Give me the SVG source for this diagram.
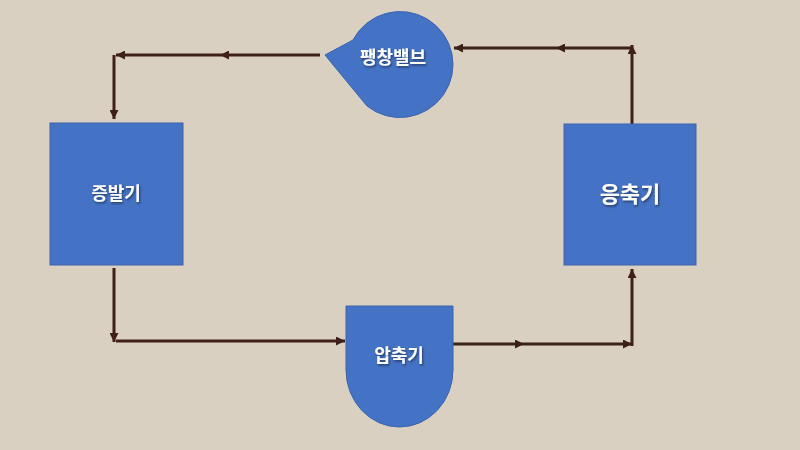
<svg xmlns="http://www.w3.org/2000/svg" width="800" height="450" viewBox="0 0 800 450">
<defs>
<marker id="ah" viewBox="0 0 10 10" refX="10" refY="5" markerWidth="9" markerHeight="9" markerUnits="userSpaceOnUse" orient="auto"><path d="M0,0 L10,5 L0,10 Z" fill="#3f1f1a"/></marker>
<filter id="sh"><feDropShadow dx="1" dy="1.5" stdDeviation="0.8" flood-color="#000" flood-opacity="0.5"/></filter>
</defs>
<style>
.n{fill:#4472c4;stroke:#3a64b0;stroke-width:1}
.c{stroke:#3f1f1a;stroke-width:3;fill:none}
.t{fill:#fff;font-family:"Noto Sans CJK KR","Noto Sans",sans-serif;font-weight:bold;font-size:18px;text-anchor:middle;filter:url(#sh)}
</style>
<rect width="800" height="450" fill="#d9d0c1"/>
<g id="connectors">
<path class="c" d="M320,55 H220" marker-end="url(#ah)"/>
<path class="c" d="M220,55 H116" marker-end="url(#ah)"/>
<path class="c" d="M114,55 V119" marker-end="url(#ah)"/>
<path class="c" d="M114,268 V342" marker-end="url(#ah)"/>
<path class="c" d="M116,341 H345" marker-end="url(#ah)"/>
<path class="c" d="M453,344 H524" marker-end="url(#ah)"/>
<path class="c" d="M524,344 H632" marker-end="url(#ah)"/>
<path class="c" d="M632,346 V269" marker-end="url(#ah)"/>
<path class="c" d="M632,124 V45" marker-end="url(#ah)"/>
<path class="c" d="M632,48 H556" marker-end="url(#ah)"/>
<path class="c" d="M556,48 H454" marker-end="url(#ah)"/>
</g>
<g id="evaporator"><rect class="n" x="50" y="123" width="133" height="142"/><text class="t" x="116" y="200">증발기</text></g>
<g id="condenser"><rect class="n" x="564" y="124" width="132" height="141"/><text class="t" x="630" y="202" style="font-size:22px">응축기</text></g>
<g id="compressor"><path class="n" d="M346,306 H453 V370 A53.5,57 0 0 1 346,370 Z"/><text class="t" x="399" y="362">압축기</text></g>
<g id="valve"><path class="n" d="M325,55 L353,40 A53,53 0 1 1 367,106 Z"/><text class="t" x="393" y="64">팽창밸브</text></g>
</svg>
